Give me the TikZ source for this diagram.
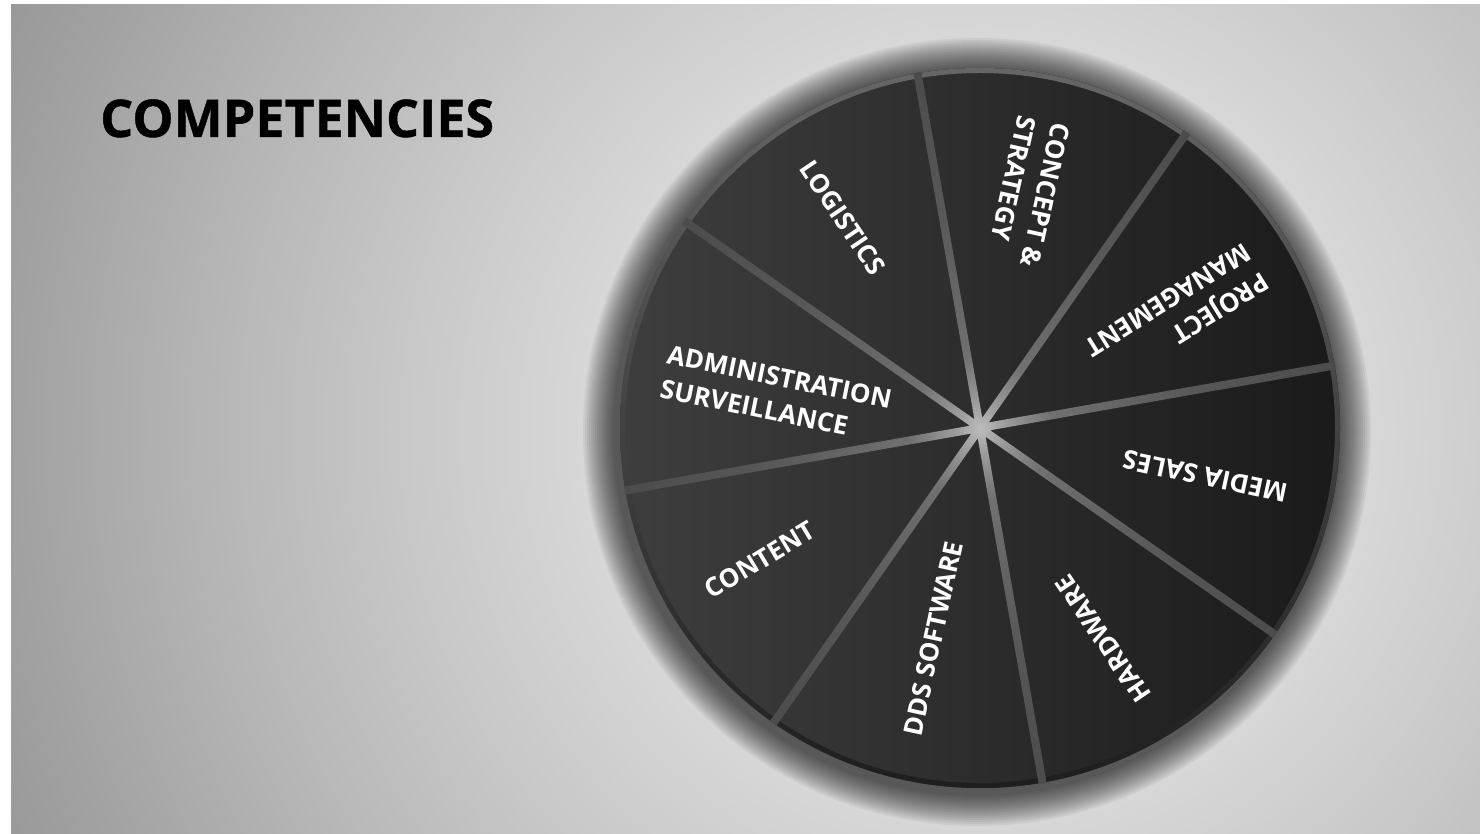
\documentclass[tikz,border=0pt]{standalone}
\usepackage{fontspec}
\setmainfont{Open Sans}
\usetikzlibrary{calc}
\definecolor{bg0}{HTML}{E2E2E2}
\definecolor{bg1}{HTML}{D8D8D8}
\definecolor{bg2}{HTML}{C8C8C8}
\definecolor{bg3}{HTML}{B6B6B6}
\definecolor{bg4}{HTML}{A2A2A2}
\definecolor{bg5}{HTML}{969696}
\definecolor{bg6}{HTML}{8C8C8C}
\definecolor{g0}{HTML}{BCBCBC}
\definecolor{g1}{HTML}{A0A0A0}
\definecolor{g2}{HTML}{707070}
\definecolor{g3}{HTML}{585858}
\definecolor{g4}{HTML}{4C4C4C}
\definecolor{sliceL}{HTML}{3E3E3E}
\definecolor{sliceR}{HTML}{1A1A1A}
\definecolor{rimT}{HTML}{666666}
\definecolor{rimB}{HTML}{1E1E1E}
% radial shadings: 25bp corresponds to the radius of the shaded circle
\pgfdeclareradialshading{bgshade}{\pgfpointorigin}{color(0bp)=(bg0); color(6bp)=(bg1); color(9bp)=(bg2); color(12bp)=(bg3); color(15bp)=(bg4); color(17bp)=(bg5); color(25bp)=(bg6); color(50bp)=(bg6)}
\pgfdeclareradialshading{gapshade}{\pgfpointorigin}{color(0bp)=(g0); color(1.5bp)=(g1); color(5bp)=(g2); color(15bp)=(g3); color(25bp)=(g4); color(50bp)=(g4)}
\tikzset{
  lab/.style={text=white, font=\fontsize{26}{35}\selectfont\bfseries, align=left, inner sep=0pt},
  ttl/.style={font=\fontsize{52}{52}\selectfont\bfseries\addfontfeature{FakeBold=0.8}, anchor=base west, inner sep=0pt},
}
\begin{document}
\begin{tikzpicture}[x=1pt,y=1pt]
\useasboundingbox (0,0) rectangle (1480,834);
\fill[white] (0,0) rectangle (1480,834);
% background
\begin{scope}
  \clip (11,0) rectangle (1480,829);
  \shade[shading=bgshade] (980,406) circle (1600);
\end{scope}
% pie shadow
\coordinate (C) at (980,406);
\coordinate (S) at (977,402);
\foreach \i in {0,...,15}{
  \fill[black, opacity=0.05] (S) circle ({394-2*\i});
}
% pie body
\shade[left color=sliceL, right color=sliceR] (C) circle (360);
% rim
\shade[even odd rule, top color=rimT, bottom color=rimB] (C) circle (360) (C) circle (355);
% gaps between slices
\begin{scope}
  \clip \foreach \a in {10,55,100,145} {
    ($(C)+(\a:361)+(\a+90:4)$) -- ($(C)+(\a:361)+(\a-90:4)$) --
    ($(C)+(\a+180:361)+(\a-90:4)$) -- ($(C)+(\a+180:361)+(\a+90:4)$) -- cycle };
  \shade[shading=gapshade] (C) circle (361);
\end{scope}
% labels
\node[lab, rotate=-56]    (logistics) at (843,616)    {LOGISTICS};
\node[lab, rotate=-102.5] (concept)   at (1028.5,642.5) {CONCEPT \&\\STRATEGY};
\node[lab, rotate=-148]   (project)   at (1177,519)   {PROJECT\\MANAGEMENT};
\node[lab, rotate=168]    (media)     at (1205,357.5) {MEDIA SALES};
\node[lab, rotate=124]    (hardware)  at (1103,195.5) {HARDWARE};
\node[lab, rotate=77.7]   (dds)       at (933,195.5)  {DDS SOFTWARE};
\node[lab, rotate=31]     (content)   at (760,274)    {CONTENT};
\node[lab, rotate=-11.5]  (admin)     at (776,440)    {ADMINISTRATION\\SURVEILLANCE};
% title
\node[ttl, text=black] (title) at (100,697) {COMPETENCIES};
\end{tikzpicture}
\end{document}
